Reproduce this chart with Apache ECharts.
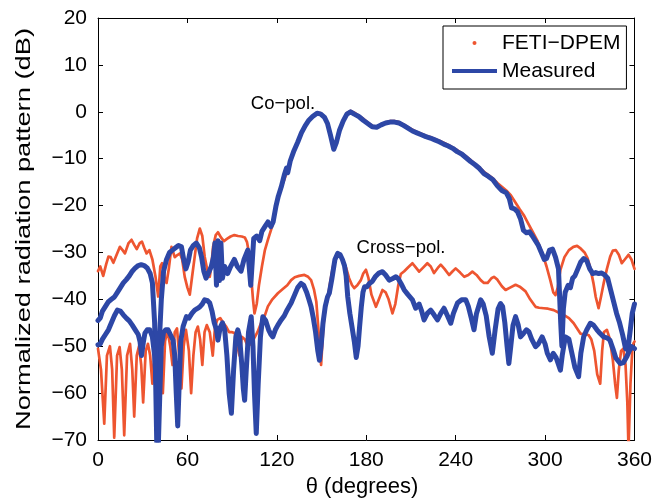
<!DOCTYPE html>
<html><head><meta charset="utf-8">
<script src="https://cdn.jsdelivr.net/npm/echarts@6/dist/echarts.min.js"></script>
<style>html,body{margin:0;padding:0;background:#fff}#c{width:655px;height:498px}</style>
</head><body><div id="c"></div>
<script>
// ---- data (angle in degrees, level in dB) ----
const xTicks = [0, 60, 120, 180, 240, 300, 360];
const yTicks = [-70, -60, -50, -40, -30, -20, -10, 0, 10, 20];
const legendNames = ['FETI\u2212DPEM', 'Measured'];
const annotations = ['Co\u2212pol.', 'Cross\u2212pol.'];

const fetiCo = [[0,-34],[1.5,-33],[3.5,-35],[5.5,-32.5],[7,-30.9],[8.5,-31],[10.3,-32.2],[12.5,-30.5],[14.7,-28.8],[16.5,-29.5],[18.1,-30.2],[20.5,-28],[22.5,-27.3],[24.5,-28.5],[26,-29.3],[28,-28],[29.5,-27.7],[31,-29],[32.6,-30.2],[34.5,-29.5],[36.5,-31.5],[38.5,-35],[40.4,-39.4],[41.8,-33],[43,-32.3],[44.8,-35.5],[46,-36.5],[47.5,-33.5],[49.3,-28.8],[51.5,-31],[53.5,-30.5],[55,-30.2],[56.5,-31.5],[58.2,-35.2],[60,-37.5],[61.6,-39],[63,-35.5],[64.9,-30.9],[66.5,-27],[68.3,-24.9],[70,-26.5],[71.6,-30.9],[73.5,-34],[75,-35.2],[76,-33],[77.2,-28.8],[79,-26.3],[80.5,-25.7],[82.5,-26.8],[84.5,-27.6],[86.5,-27.1],[89,-26.6],[91.5,-26.3],[94,-26.5],[96.5,-26.6],[98.5,-26.8],[100,-27.8],[101.5,-30.5],[103,-36],[104,-40],[105,-43],[106.5,-41],[108,-37],[110,-33],[112,-29.5],[114,-27.3],[116,-25.3],[117.5,-23.8],[119,-21],[120.7,-18.1],[122.5,-16.5],[125,-14.5],[127.5,-12],[130,-9.5],[132.5,-7.5],[135,-5.5],[137.5,-4],[140,-2.5],[142.5,-1.5],[145,-0.8],[147.5,-0.2],[149.5,-0.3],[151.5,-1],[153.5,-2.2],[155.5,-4.2],[157.5,-7],[158.6,-7.8],[160,-6.5],[162,-4],[164.5,-1.8],[167,-0.3],[169.5,0.2],[172,-0.2],[175,-0.8],[178,-1.5],[181,-2.3],[184,-3],[187,-3.2],[190,-2.7],[193,-2.3],[196,-2],[199,-2],[202,-2.2],[205,-2.7],[208,-3.3],[211,-3.8],[214,-4.3],[217,-4.7],[220,-5.1],[223,-5.4],[226,-5.8],[229,-6.2],[232,-6.6],[235,-7.1],[238,-7.6],[241,-8.2],[244,-8.8],[247,-9.5],[250,-10.3],[253,-11.1],[256,-11.9],[259,-12.8],[262,-13.5],[265,-14.2],[268,-15.2],[271,-16],[274,-16.8],[277,-17.8],[280,-19.3],[283,-20.8],[286,-22.2],[289,-24],[292,-25.8],[295,-27.6],[298,-30],[301,-33],[303.5,-35.9],[305.5,-38.5],[307,-39.1],[308.5,-37.5],[310.3,-33.7],[313,-31],[316,-29.5],[319,-28.8],[321.5,-28.6],[324,-29.2],[326.5,-30],[328.5,-31.2],[330.5,-33.5],[332.5,-36.6],[334,-39.5],[335.9,-41.9],[337.5,-39.5],[339.3,-36.6],[341.5,-33.5],[343.7,-30.9],[345.5,-29.6],[347.5,-29.5],[349.5,-30.5],[351.5,-32.3],[353.5,-31.5],[356,-30.5],[358,-31.5],[360,-33.5]];

const fetiCross = [[0,-50.5],[2,-55],[4.2,-66.5],[6,-52],[8,-50],[9.5,-55],[10.9,-69.5],[12.8,-52],[14.5,-50.2],[16,-55],[17.6,-69],[19.5,-52],[21.5,-49.5],[23,-55],[24.3,-65],[26,-52],[27.5,-50],[29,-54],[30.3,-62],[32,-51],[33.5,-49.5],[35,-52],[36.5,-58],[38,-50.5],[40,-49],[41.5,-53],[43.5,-60],[45,-49],[46.5,-46.5],[48.5,-50],[50,-54],[51.5,-47],[53,-46.2],[54.5,-52],[56,-59],[57.5,-50],[59,-46.5],[61,-51],[62.5,-60],[64,-52],[65.5,-47],[67,-45.8],[68.5,-48.5],[70,-54],[71.5,-47],[73,-45.5],[75,-47],[77,-52],[78.5,-46],[80,-44.4],[82,-44],[84,-45],[86,-45.8],[88,-47],[90,-47],[91.7,-47.2],[93.5,-50],[95,-52],[96.5,-48],[98.5,-48.5],[100.5,-50],[102.5,-49.5],[104.5,-48.5],[107,-47],[109.5,-45],[111.7,-43.7],[114,-41.5],[117,-40],[120.7,-38.7],[124,-37.8],[127,-37],[129.6,-35.9],[132,-35.3],[135,-35],[138.5,-34.8],[141,-35.2],[143,-35.9],[145,-38],[146.5,-40.5],[147.8,-46],[149.7,-54],[151.2,-46],[152.5,-42],[154,-40.1],[156,-36],[158,-32.5],[160.8,-30.3],[163,-31],[165,-32.5],[166.5,-33.3],[168.5,-35.5],[170.5,-37],[172,-37.6],[174,-37],[176.4,-35.9],[178,-34.5],[179.8,-33.7],[181.5,-35.5],[183.5,-39],[186.5,-41.6],[188.5,-40],[190.9,-38],[193,-38.5],[195,-40],[197.6,-43],[199.5,-41],[201.5,-37],[203.2,-34.6],[205.5,-34],[208,-33.2],[211,-32.3],[213.5,-33.3],[215.5,-34.1],[218,-33.3],[221,-32.3],[223.3,-33],[225.5,-34.4],[228,-33.3],[230,-32.6],[232.5,-33.5],[235.6,-34.8],[238,-34],[240,-33.4],[243,-34.3],[245.8,-35.2],[248.5,-34.8],[251.2,-34.1],[254,-34.8],[256.8,-35.9],[259,-36.5],[261.5,-36.5],[264,-35.5],[265.7,-35.2],[268,-35.8],[271,-37.2],[273.5,-38],[276.5,-37.5],[280.2,-36.9],[283,-37.3],[286.9,-38.3],[290,-40],[293.6,-41.6],[296,-41.8],[299.1,-41.9],[302,-42],[305.8,-42.3],[309,-42.8],[312.5,-43.3],[316,-44],[319.2,-45.1],[321.5,-46.2],[323.7,-47.3],[326.5,-47.5],[329.2,-47.6],[331,-48.5],[333,-51],[335,-56],[337,-58],[338.3,-51],[339.5,-47],[341.5,-46.5],[343.5,-48.5],[345.5,-53],[347,-58],[348.2,-61],[349.5,-55],[351,-51],[352.5,-50.5],[354,-54],[355.2,-62],[356,-72],[357.3,-58],[358.5,-51],[359.3,-49.4],[360,-49]];

const measuredCo = [[0,-44.5],[1.5,-44],[3,-42.5],[5,-41.5],[7,-40.5],[9,-40],[11,-39.5],[13,-38.5],[15,-37.5],[17,-36.5],[19,-35.8],[21,-35],[23,-34],[25,-33.3],[27,-32.8],[29,-32.6],[31,-32.8],[33,-33.3],[35,-34.5],[36.5,-36.5],[38,-45],[39.5,-72],[41,-50],[42.5,-40],[44,-34],[46,-31.5],[48,-30],[50,-29.5],[52,-29],[54,-28.5],[56,-28.8],[57.5,-31.5],[59,-33.5],[60.5,-32],[62,-29.5],[64,-28.5],[66,-28],[68,-29],[69.5,-31],[71,-34],[72.5,-35.5],[74,-34.5],[76,-33],[77.5,-31],[78.5,-28],[79.5,-37],[80.5,-27.5],[81.5,-36],[82.5,-28],[83.5,-35.5],[85,-33],[87,-34.5],[89,-33],[91.5,-31.5],[93.5,-33],[96,-34],[98,-31.5],[100.5,-29.5],[102.5,-37],[104.5,-27],[106.5,-26.5],[108.5,-27.5],[110,-25.5],[112,-24.5],[114,-23.5],[116,-24.5],[117.5,-23.5],[119.5,-20],[121,-18],[123,-16],[125,-13.5],[126.5,-12],[127.3,-13],[129,-10.5],[131.5,-8.3],[134,-6.5],[136.5,-4.5],[139,-3],[141.5,-1.8],[144,-1],[147,-0.3],[149.5,-0.5],[152,-1.2],[154,-2.5],[156,-5],[158.2,-8],[160,-6.5],[162,-4],[164.5,-2],[167,-0.5],[169.5,0],[172,-0.5],[175,-1],[178,-1.8],[181,-2.5],[184,-3.2],[187,-3.3],[190,-2.8],[193,-2.4],[196,-2.2],[199,-2.2],[202,-2.4],[205,-2.9],[208,-3.5],[211,-4.1],[214,-4.5],[217,-4.9],[220,-5.3],[223,-5.6],[226,-6],[229,-6.4],[232,-6.9],[235,-7.3],[238,-7.8],[241,-8.5],[244,-9],[247,-9.8],[250,-10.6],[253,-11.3],[256,-12.1],[259,-13.2],[262,-13.8],[265,-14.5],[268,-15.8],[271,-16.8],[274,-17.3],[276,-18.5],[277.5,-20.5],[279.5,-20.7],[281.5,-21.3],[283.5,-22.8],[285.5,-25.3],[287.5,-25.8],[289.5,-25.6],[291.5,-26.5],[293.5,-27.5],[295.5,-28.5],[297.5,-30],[299.5,-31.5],[301,-31.3],[303,-29.5],[305,-29.3],[307,-31],[309,-33.5],[310.5,-45],[311.3,-50],[312.3,-42],[313.5,-38.5],[315.5,-37],[317,-37.5],[318.5,-35.5],[320,-35],[322,-33.5],[324,-32],[326,-31.3],[328,-31.8],[330,-33.5],[332,-34.5],[334,-34.3],[336,-34.5],[338,-34.4],[340,-34.8],[342,-35.5],[344,-38],[346,-40.5],[348,-43],[350,-45],[352,-47.5],[354,-50.5],[355.5,-50.8],[357,-47],[358.5,-43],[360,-41]];

const measuredCross = [[0,-49.7],[1.5,-49.5],[3,-48.5],[5,-47.5],[7,-46.5],[9,-45],[11,-43.5],[13,-42.3],[15,-42.5],[17,-43.3],[19,-44],[21,-44.6],[23,-45.5],[25,-46.5],[27,-47.5],[28.2,-49],[29.2,-52],[30.5,-49],[31.5,-47.2],[33,-46.5],[34.8,-46.5],[36.5,-48],[38,-52],[39.5,-60],[40.4,-72],[41.5,-60],[42.5,-50],[44,-47],[45.5,-46.5],[47,-46.5],[48.5,-47.5],[50.4,-48.7],[51.5,-52],[52.5,-60],[53.5,-67],[54.5,-58],[55.5,-49],[57.1,-45.8],[59.3,-43.7],[61,-44],[63,-43],[64.9,-42.3],[66.5,-42],[68.3,-41.6],[70,-41],[71.6,-40.1],[73.5,-40.3],[75,-40.8],[76.5,-42.5],[78,-45],[79.5,-46.5],[80.5,-48.7],[82,-46],[83.5,-45],[85,-46.5],[86.5,-52],[88,-60],[89.5,-64.3],[91,-55],[92.5,-48],[93.8,-46.5],[95,-48],[96.5,-54],[97.5,-59],[98.4,-61.5],[99.5,-55],[101,-47],[102.8,-43.7],[104,-50],[105,-60],[106.2,-68.6],[107.5,-58],[109,-48],[110.6,-43.7],[112.5,-44.5],[114.5,-46.5],[116,-47.5],[117.3,-48],[119,-46.5],[120.7,-45.5],[122.9,-44.4],[125,-43.5],[127,-42.2],[129.6,-40.8],[132,-39],[134,-37.5],[136.3,-36.6],[138,-37],[140,-38.5],[141.5,-40],[143,-41.6],[144.5,-44],[146,-47],[147.5,-51],[148.6,-53],[149.7,-50],[151,-45],[152.5,-41.5],[154,-39.5],[155.2,-38.7],[157,-35.5],[159,-31.5],[160.8,-30.2],[162.5,-30.5],[164,-31.5],[165.4,-32.8],[166.5,-35],[167.6,-39.5],[169,-43],[170.5,-46],[172,-49],[173.3,-52.4],[174.5,-50],[175.5,-46],[176.7,-41.6],[177.8,-38.5],[178.9,-37.3],[180.5,-37.3],[182.2,-36.6],[184,-36.2],[186,-35.2],[188.5,-34.4],[190.9,-34.1],[193,-34.8],[195.4,-35.9],[197.5,-35.6],[199.9,-35.2],[201.5,-35.6],[203.3,-36.6],[205.5,-38],[208,-39],[211,-40.1],[213.2,-41.9],[215.5,-41],[217.2,-42.5],[218.8,-44.4],[221,-43],[223.3,-42.3],[225.5,-43.3],[227.8,-44.4],[230,-43],[232.2,-41.9],[234.5,-43.5],[236.7,-45.1],[238.5,-43],[241.2,-40.8],[244,-40.1],[246.8,-40.1],[248.5,-41.5],[250.5,-44],[252.3,-46.5],[254,-43],[256.8,-40.1],[258.5,-41],[260.5,-43.5],[262.5,-48],[264.6,-51.5],[266.5,-46.5],[268.5,-42],[270.1,-40.9],[271.5,-41.5],[273,-45],[274.5,-50],[275.7,-53.7],[277,-50],[278.5,-45.5],[280.2,-43.7],[282,-45.5],[283.5,-48],[285.5,-47.3],[287.5,-46.5],[289.1,-46.9],[291,-48.5],[293.6,-50.1],[295.5,-49.5],[298,-48],[300,-49.5],[301.5,-51.5],[303.6,-52.9],[305.5,-51.5],[307.5,-52.5],[310.3,-55.1],[311.5,-52],[313.6,-48],[316,-48.5],[318,-51.5],[320,-54.5],[322.5,-56.5],[324,-51.5],[325.9,-48],[328,-46.5],[330.4,-45.1],[332.5,-45.5],[334.8,-46.5],[337,-47.3],[339.3,-48],[341.5,-48.2],[343.5,-48.7],[345.5,-50.5],[347.5,-52.5],[350.4,-53.7],[352.5,-53.5],[354.9,-52.2],[356.5,-51],[358.2,-50.1],[360,-50.5]];

// ---- styling ----
const RED = '#ee5530';
const BLUE = '#2d47a6';
const FONT = '"Liberation Sans", Arial, Helvetica, sans-serif';
const fmtMinus = v => (v < 0 ? '\u2212' + Math.abs(v) : String(v));

function axisCommon() {
  return {
    axisLine: { show: true, onZero: false, lineStyle: { color: '#000', width: 1 } },
    axisTick: { show: true, inside: true, length: 5, lineStyle: { color: '#000', width: 1 } },
    splitLine: { show: false }
  };
}

const chart = echarts.init(document.getElementById('c'), null, { renderer: 'canvas' });
chart.setOption({
  animation: false,
  backgroundColor: '#fff',
  grid: { left: 98, right: 19, top: 18, bottom: 58 },
  xAxis: [
    Object.assign({ type: 'value', position: 'bottom', min: xTicks[0], max: xTicks[xTicks.length - 1], interval: 60,
      axisLabel: { color: '#000', fontSize: 21, fontFamily: FONT, margin: 10, formatter: fmtMinus } }, axisCommon()),
    Object.assign({ type: 'value', position: 'top', min: xTicks[0], max: xTicks[xTicks.length - 1], interval: 60,
      axisLabel: { show: false } }, axisCommon())
  ],
  yAxis: [
    Object.assign({ type: 'value', position: 'left', min: yTicks[0], max: yTicks[yTicks.length - 1], interval: 10,
      axisLabel: { color: '#000', fontSize: 21, fontFamily: FONT, margin: 11, formatter: fmtMinus } }, axisCommon()),
    Object.assign({ type: 'value', position: 'right', min: yTicks[0], max: yTicks[yTicks.length - 1], interval: 10,
      axisLabel: { show: false } }, axisCommon())
  ],
  legend: {
    orient: 'vertical', left: 443, top: 26,
    padding: [5, 6, 6, 9], itemGap: 4, itemWidth: 45, itemHeight: 4, itemTextGap: 9,
    borderColor: '#000', borderWidth: 1, backgroundColor: '#fff', selectedMode: false,
    textStyle: { color: '#000', fontSize: 21, fontFamily: FONT, lineHeight: 24 },
    data: [
      { name: legendNames[0], icon: 'circle', itemStyle: { color: RED, borderWidth: 0 } },
      { name: legendNames[1], icon: 'rect', itemStyle: { color: BLUE, borderWidth: 0 } }
    ]
  },
  graphic: [
    { type: 'text', x: 24, y: 229, rotation: Math.PI / 2, scaleX: 1.3, z: 10,
      style: { text: 'Normalized radiation pattern (dB)', fill: '#000', font: '21px ' + FONT,
        align: 'center', verticalAlign: 'middle', textAlign: 'center', textVerticalAlign: 'middle' } },
    { type: 'text', x: 362, y: 487, z: 10,
      style: { text: '\u03b8 (degrees)', fill: '#000', font: '22px ' + FONT,
        align: 'center', verticalAlign: 'middle', textAlign: 'center', textVerticalAlign: 'middle' } },
    { type: 'text', x: 283, y: 104, z: 10,
      style: { text: annotations[0], fill: '#000', font: '18.5px ' + FONT,
        align: 'center', verticalAlign: 'middle', textAlign: 'center', textVerticalAlign: 'middle' } },
    { type: 'text', x: 401, y: 248, z: 10,
      style: { text: annotations[1], fill: '#000', font: '18.5px ' + FONT,
        align: 'center', verticalAlign: 'middle', textAlign: 'center', textVerticalAlign: 'middle' } }
  ],
  series: [
    { name: legendNames[0], type: 'line', data: fetiCo, showSymbol: false, symbol: 'none', clip: true,
      color: RED, lineStyle: { color: RED, width: 2.7, cap: 'round', join: 'round' }, z: 2 },
    { name: legendNames[0], type: 'line', data: fetiCross, showSymbol: false, symbol: 'none', clip: true,
      color: RED, lineStyle: { color: RED, width: 2.7, cap: 'round', join: 'round' }, z: 2 },
    { name: legendNames[1], type: 'line', data: measuredCo, showSymbol: false, symbol: 'none', clip: true,
      color: BLUE, lineStyle: { color: BLUE, width: 5, cap: 'round', join: 'round' }, z: 3 },
    { name: legendNames[1], type: 'line', data: measuredCross, showSymbol: false, symbol: 'none', clip: true,
      color: BLUE, lineStyle: { color: BLUE, width: 5, cap: 'round', join: 'round' }, z: 3 }
  ]
});
</script>
</body></html>
